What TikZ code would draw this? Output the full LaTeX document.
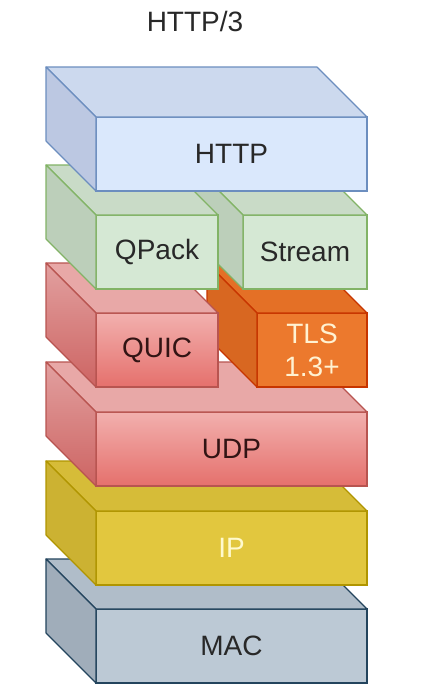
\documentclass[tikz,border=0pt]{standalone}
\usepackage{fontspec}
\setmainfont{Liberation Sans}
\definecolor{httpF}{RGB}{218,232,252}
\definecolor{httpT}{RGB}{204,217,238}
\definecolor{httpL}{RGB}{188,200,226}
\definecolor{httpS}{RGB}{108,142,191}
\definecolor{grnF}{RGB}{213,232,212}
\definecolor{grnT}{RGB}{201,219,199}
\definecolor{grnL}{RGB}{188,207,186}
\definecolor{grnS}{RGB}{130,179,102}
\definecolor{redFt}{RGB}{242,176,174}
\definecolor{redFb}{RGB}{229,112,108}
\definecolor{redT}{RGB}{232,168,167}
\definecolor{redLt}{RGB}{226,160,160}
\definecolor{redLb}{RGB}{205,100,98}
\definecolor{redS}{RGB}{184,84,80}
\definecolor{redX}{RGB}{50,20,20}
\definecolor{tlsF}{RGB}{236,121,45}
\definecolor{tlsT}{RGB}{228,112,38}
\definecolor{tlsL}{RGB}{216,103,33}
\definecolor{tlsS}{RGB}{199,53,0}
\definecolor{tlsX}{RGB}{255,242,210}
\definecolor{ipF}{RGB}{226,199,62}
\definecolor{ipT}{RGB}{214,188,56}
\definecolor{ipL}{RGB}{204,178,50}
\definecolor{ipS}{RGB}{176,149,0}
\definecolor{ipX}{RGB}{255,250,205}
\definecolor{macF}{RGB}{188,201,213}
\definecolor{macT}{RGB}{176,189,201}
\definecolor{macL}{RGB}{160,173,186}
\definecolor{macS}{RGB}{35,68,93}
\definecolor{txtD}{RGB}{40,40,40}
\tikzset{
  face/.style={rectangle, outer sep=0pt, inner sep=0pt, line width=1.1pt,
    font=\fontsize{28}{33}\selectfont, align=center},
  httpfront/.style={fill=httpF, draw=httpS, text=txtD},
  httptop/.style={fill=httpT, draw=httpS},
  httpleft/.style={fill=httpL, draw=httpS},
  grnfront/.style={fill=grnF, draw=grnS, text=txtD},
  grntop/.style={fill=grnT, draw=grnS},
  grnleft/.style={fill=grnL, draw=grnS},
  redfront/.style={top color=redFt, bottom color=redFb, draw=redS, text=redX},
  redtop/.style={fill=redT, draw=redS},
  redleft/.style={top color=redLt, bottom color=redLb, draw=redS},
  tlsfront/.style={fill=tlsF, draw=tlsS, text=tlsX},
  tlstop/.style={fill=tlsT, draw=tlsS},
  tlsleft/.style={fill=tlsL, draw=tlsS},
  ipfront/.style={fill=ipF, draw=ipS, text=ipX},
  iptop/.style={fill=ipT, draw=ipS},
  ipleft/.style={fill=ipL, draw=ipS},
  macfront/.style={fill=macF, draw=macS, text=txtD},
  mactop/.style={fill=macT, draw=macS},
  macleft/.style={fill=macL, draw=macS},
  sideface/.style={line width=1.1pt, line join=round},
  titletext/.style={font=\fontsize{28}{33}\selectfont, text=txtD}
}
% #1 name, #2 centre, #3 width, #4 height, #5 style prefix, #6 text
\newcommand\layerbox[6]{%
  \node[face, minimum width=#3, minimum height=#4, #5front] (#1) at #2 {#6};
  \path[sideface, #5top] (#1.north west) -- ++(-50,-50)
     -- ([shift={(-50pt,50pt)}]#1.north east) -- (#1.north east) -- cycle;
  \path[sideface, #5left] (#1.north west) -- ++(-50,-50)
     -- ([shift={(-50pt,50pt)}]#1.south west) -- (#1.south west) -- cycle;
}
\begin{document}
\begin{tikzpicture}[x=1pt, y=-1pt]
  \useasboundingbox[fill=white] (0,0) rectangle (430,696);
  \node[titletext] (title) at (195,21) {HTTP/3};
  \layerbox{mac}{(231.5,646)}{271pt}{74pt}{mac}{MAC}
  \layerbox{ip}{(231.5,548)}{271pt}{74pt}{ip}{IP}
  \layerbox{udp}{(231.5,449)}{271pt}{74pt}{red}{UDP}
  \layerbox{tls}{(312,350)}{110pt}{74pt}{tls}{TLS\\1.3+}
  \layerbox{quic}{(157,350)}{122pt}{74pt}{red}{QUIC}
  \layerbox{stream}{(305,252)}{124pt}{74pt}{grn}{Stream}
  \layerbox{qpack}{(157,252)}{122pt}{74pt}{grn}{QPack}
  \layerbox{http}{(231.5,154)}{271pt}{74pt}{http}{HTTP}
\end{tikzpicture}
\end{document}
